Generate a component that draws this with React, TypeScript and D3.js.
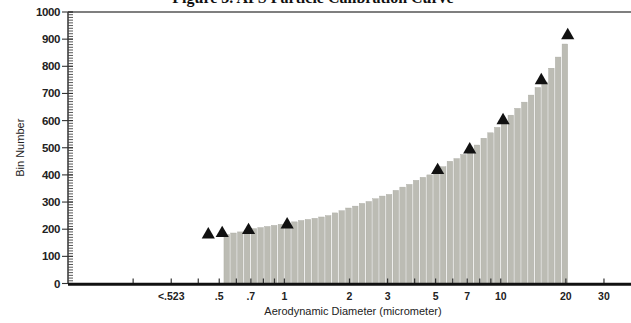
import React, { useEffect, useRef } from 'react';
import * as d3 from 'd3';

// APS channel boundaries (micrometer), 52 edges -> 51 bins
const binEdges = [
  0.523, 0.562, 0.604, 0.649, 0.698, 0.75, 0.806, 0.866, 0.931, 1.0,
  1.075, 1.155, 1.241, 1.334, 1.433, 1.54, 1.655, 1.778, 1.911, 2.054,
  2.207, 2.371, 2.548, 2.738, 2.943, 3.162, 3.398, 3.652, 3.924, 4.217,
  4.532, 4.87, 5.233, 5.623, 6.043, 6.494, 6.978, 7.499, 8.058, 8.66,
  9.306, 10.0, 10.75, 11.55, 12.41, 13.34, 14.33, 15.4, 16.55, 17.78,
  19.11, 20.54,
];

// bin number per channel
const binValues = [
  180, 186, 190, 196, 202, 206, 210, 214, 218, 222,
  227, 232, 236, 240, 245, 250, 260, 268, 278, 285,
  295, 302, 312, 322, 328, 343, 355, 365, 380, 391,
  400, 415, 430, 450, 460, 475, 490, 510, 535, 555,
  575, 598, 620, 645, 668, 694, 722, 742, 793, 834,
  882,
];

// calibration particles (triangles)
const calDiameters = [0.445, 0.516, 0.683, 1.03, 5.11, 7.19, 10.25, 15.4, 20.4];
const calBins = [180, 185, 196, 217, 417, 493, 601, 748, 914];

const xTicks = [0.2, 0.3, 0.4, 0.5, 0.6, 0.7, 0.8, 0.9, 1, 2, 3, 4, 5, 6, 7, 8, 9, 10, 20, 30];
const xTickLabels: Record<string, string> = {
  '0.3': '<.523', '0.5': '.5', '0.7': '.7', '1': '1', '2': '2', '3': '3',
  '5': '5', '7': '7', '10': '10', '20': '20', '30': '30',
};

const W = 631;
const H = 323;

export default function App() {
  const ref = useRef<SVGSVGElement>(null);

  useEffect(() => {
    if (!ref.current) return;
    const svg = d3.select(ref.current);
    svg.selectAll('*').remove();

    const left = 68;
    const right = 631;
    const top = 12;
    const bottom = 283.5;

    const x = d3.scaleLog().domain([0.1, 40]).range([left, right]);
    const y = d3.scaleLinear().domain([0, 1000]).range([bottom, top]);
    const font = '"Liberation Sans", Arial, sans-serif';

    // title, cut off at the top edge like the scanned page
    svg.append('text')
      .attr('x', 313)
      .attr('y', 3)
      .attr('text-anchor', 'middle')
      .attr('font-family', '"Liberation Serif", "Times New Roman", serif')
      .attr('font-weight', 'bold')
      .attr('font-size', 16)
      .attr('fill', '#111')
      .text('Figure 3. APS Particle Calibration Curve');

    // bars
    const bins = binValues.map((v, i) => ({ lo: binEdges[i], hi: binEdges[i + 1], v }));
    svg.append('g')
      .selectAll('rect')
      .data(bins)
      .enter().append('rect')
      .attr('x', d => x(d.lo) + 0.5)
      .attr('width', d => Math.max(0, x(d.hi) - x(d.lo) - 1.2))
      .attr('y', d => y(d.v))
      .attr('height', d => bottom - y(d.v))
      .attr('fill', '#bcbcb4')
      .attr('stroke', '#a9a9a1')
      .attr('stroke-width', 0.4);

    // top frame line
    svg.append('line')
      .attr('x1', left).attr('x2', right)
      .attr('y1', top).attr('y2', top)
      .attr('stroke', '#555').attr('stroke-width', 1.5);

    // y axis
    const yAxis = svg.append('g');
    yAxis.append('line')
      .attr('x1', left).attr('x2', left)
      .attr('y1', top).attr('y2', bottom)
      .attr('stroke', '#333').attr('stroke-width', 1.5);

    const minor = d3.range(0, 1001, 10);
    yAxis.selectAll('.minor')
      .data(minor)
      .enter().append('line')
      .attr('x1', left).attr('x2', left + 5)
      .attr('y1', d => y(d)).attr('y2', d => y(d))
      .attr('stroke', '#444').attr('stroke-width', 0.9);

    const major = d3.range(0, 1001, 100);
    yAxis.selectAll('.major')
      .data(major)
      .enter().append('line')
      .attr('x1', left - 6).attr('x2', left + 5)
      .attr('y1', d => y(d)).attr('y2', d => y(d))
      .attr('stroke', '#333').attr('stroke-width', 1.1);

    yAxis.selectAll('.ylab')
      .data(major)
      .enter().append('text')
      .attr('x', left - 8)
      .attr('y', d => y(d))
      .attr('dy', '0.35em')
      .attr('text-anchor', 'end')
      .attr('font-family', font)
      .attr('font-size', 11.5)
      .attr('font-weight', 'bold')
      .attr('fill', '#222')
      .attr('letter-spacing', -0.4)
      .text(d => d);

    svg.append('text')
      .attr('transform', `translate(24,${(top + bottom) / 2}) rotate(-90)`)
      .attr('text-anchor', 'middle')
      .attr('font-family', font)
      .attr('font-size', 11)
      .attr('fill', '#222')
      .text('Bin Number');

    // x axis
    const xAxis = svg.append('g');
    xAxis.selectAll('.xt')
      .data(xTicks)
      .enter().append('line')
      .attr('x1', d => x(d)).attr('x2', d => x(d))
      .attr('y1', bottom - 5).attr('y2', bottom)
      .attr('stroke', '#333').attr('stroke-width', 1.2);

    xAxis.append('line')
      .attr('x1', left).attr('x2', right)
      .attr('y1', bottom + 0.8).attr('y2', bottom + 0.8)
      .attr('stroke', '#111').attr('stroke-width', 3);

    xAxis.selectAll('.xl')
      .data(xTicks.filter(t => xTickLabels[String(t)]))
      .enter().append('text')
      .attr('x', d => x(d))
      .attr('y', 300)
      .attr('text-anchor', 'middle')
      .attr('font-family', font)
      .attr('font-size', 10.5)
      .attr('font-weight', 'bold')
      .attr('fill', '#222')
      .text(d => xTickLabels[String(d)]);

    svg.append('text')
      .attr('x', 353)
      .attr('y', 315)
      .attr('text-anchor', 'middle')
      .attr('font-family', font)
      .attr('font-size', 11)
      .attr('fill', '#222')
      .text('Aerodynamic Diameter (micrometer)');

    // calibration triangles
    const tri = d3.symbol().type(d3.symbolTriangle).size(75);
    svg.append('g')
      .selectAll('path')
      .data(calDiameters.map((d, i) => ({ d, v: calBins[i] })))
      .enter().append('path')
      .attr('d', tri)
      .attr('transform', p => `translate(${x(p.d)},${y(p.v)})`)
      .attr('fill', '#111');
  }, []);

  return (
    <svg
      ref={ref}
      width={W}
      height={H}
      style={{ position: 'absolute', left: 0, top: 0, background: '#fff' }}
    />
  );
}
